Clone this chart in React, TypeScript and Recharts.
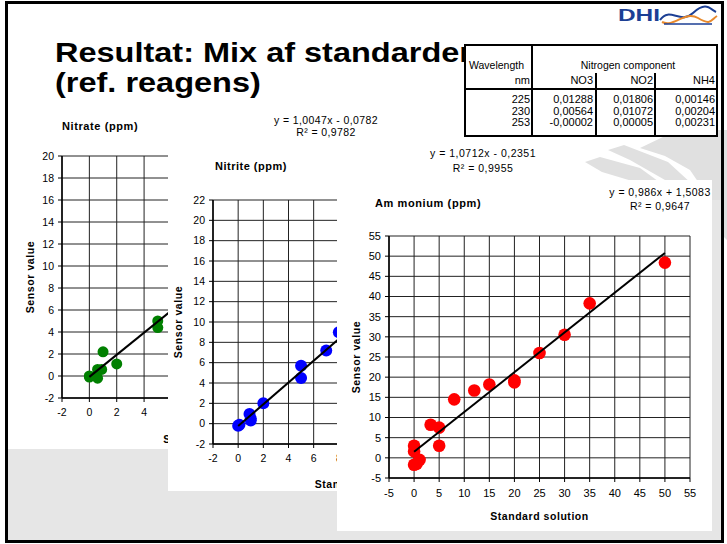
import React from 'react';
import { ScatterChart, Scatter, XAxis, YAxis, CartesianGrid } from 'recharts';

const F = '"Liberation Sans", Arial, sans-serif';

// ---- Nitrate ----
const nitrateX = [0, 0, 0.6, 0.6, 0.9, 1.0, 2.0, 5.0, 5.0];
const nitrateY = [0, -0.1, 0.6, -0.2, 0.6, 2.2, 1.1, 5.0, 4.4];
const nitrateTrendX = [0, 20];
const nitrateTrendY = [-0.08, 20.02];
const nitrateTicks = [-2, 0, 2, 4, 6, 8, 10, 12, 14, 16, 18, 20];

// ---- Nitrite ----
const nitriteX = [0, 0.1, 0.9, 1.0, 1.0, 2.0, 5.0, 5.0, 7.0, 8.0];
const nitriteY = [-0.2, -0.1, 0.95, 0.3, 0.5, 2.0, 5.7, 4.5, 7.2, 9.0];
const nitriteTrendX = [0, 20];
const nitriteTrendY = [-0.24, 21.19];
const nitriteTicks = [-2, 0, 2, 4, 6, 8, 10, 12, 14, 16, 18, 20, 22];

// ---- Ammonium ----
const ammoniumX = [50, 35, 30, 25, 20, 20, 15, 12, 8, 3.3, 5, 5, 0, 0, 1.1, 0, 0.5];
const ammoniumY = [48.4, 38.3, 30.5, 26, 19.2, 18.7, 18.2, 16.7, 14.5, 8.2, 7.5, 3.0, 3.0, 1.6, -0.5, -1.7, -1.5];
const ammoniumTrendX = [0, 50];
const ammoniumTrendY = [1.5, 50.8];
const ammoniumTicks = [-5, 0, 5, 10, 15, 20, 25, 30, 35, 40, 45, 50, 55];

// ---- Table ----
const tableWavelengths = ['225', '230', '253'];
const tableNO3 = ['0,01288', '0,00564', '-0,00002'];
const tableNO2 = ['0,01806', '0,01072', '0,00005'];
const tableNH4 = ['0,00146', '0,00204', '0,00231'];

const zip = (xs: number[], ys: number[]) => xs.map((x, i) => ({ x, y: ys[i] }));

type PanelProps = {
  left: number; top: number; width: number; height: number;
  margin: { top: number; right: number; bottom: number; left: number };
  xh: number; ylabOffset: number;
  ticks: number[];
  points: { x: number; y: number }[];
  trend: { x: number; y: number }[];
  color: string; r: number; tickFont: number;
};

function Panel(p: PanelProps) {
  const dom: [number, number] = [p.ticks[0], p.ticks[p.ticks.length - 1]];
  return (
    <div style={{ position: 'absolute', left: p.left, top: p.top, width: p.width, height: p.height, background: '#fff' }}>
      <ScatterChart width={p.width} height={p.height} margin={p.margin}>
        <CartesianGrid stroke="#222" strokeWidth={1} />
        <XAxis
          type="number" dataKey="x" domain={dom} ticks={p.ticks} interval={0} allowDataOverflow
          height={p.xh} tickSize={4} tickMargin={7}
          axisLine={{ stroke: '#000', strokeWidth: 1.5 }} tickLine={{ stroke: '#000' }}
          tick={{ fontSize: p.tickFont, fill: '#000', fontFamily: F }}
          label={{ value: 'Standard solution', position: 'insideBottom', offset: 0, fontSize: 10.5, fontWeight: 700, fill: '#000', fontFamily: F, letterSpacing: 0.55, style: { letterSpacing: '0.55px' } }}
        />
        <YAxis
          type="number" dataKey="y" domain={dom} ticks={p.ticks} interval={0} allowDataOverflow
          width={40} tickSize={4} tickMargin={4}
          axisLine={{ stroke: '#000', strokeWidth: 1.5 }} tickLine={{ stroke: '#000' }}
          tick={{ fontSize: p.tickFont, fill: '#000', fontFamily: F }}
          label={{ value: 'Sensor value', angle: -90, position: 'insideLeft', offset: p.ylabOffset, textAnchor: 'middle', fontSize: 10.5, fontWeight: 700, fill: '#000', fontFamily: F, style: { textAnchor: 'middle', letterSpacing: '0.6px' } }}
        />
        <Scatter
          data={p.points} isAnimationActive={false}
          shape={(s: any) => <circle cx={s.cx} cy={s.cy} r={p.r} fill={p.color} />}
        />
        <Scatter
          data={p.trend} isAnimationActive={false}
          line={{ stroke: '#000', strokeWidth: 2 }}
          shape={() => <g />}
        />
      </ScatterChart>
    </div>
  );
}

const abs = (extra: React.CSSProperties): React.CSSProperties => ({ position: 'absolute', fontFamily: F, color: '#000', whiteSpace: 'nowrap', ...extra });
const cell = (left: number, top: number, width: number): React.CSSProperties =>
  abs({ left, top, width, textAlign: 'right', fontSize: 11, lineHeight: '12px' });

export default function App() {
  const cellTops = [93, 105, 116];
  return (
    <div style={{ position: 'absolute', left: 0, top: 0, width: 727, height: 544, background: '#fff', overflow: 'hidden', fontFamily: F }}>
      {/* swoosh background */}
      <svg style={{ position: 'absolute', left: 0, top: 0 }} width={727} height={544}>
        <polygon points="585,162 600,157 640,168 662,184 642,184 602,172" fill="#e0e0e0" />
        <polygon points="608,150 624,145 668,162 692,184 672,184 630,160" fill="#e0e0e0" />
        <polygon points="640,148 665,136 700,130 727,130 727,240 712,225 705,192 690,170 665,156" fill="#e0e0e0" />
        <rect x={8} y={449} width={716} height={94} fill="#e6e6e6" />
        <rect x={712} y={200} width={12} height={343} fill="#e6e6e6" />
      </svg>

      {/* Title */}
      <div style={abs({ left: 55, top: 38, fontSize: 28, fontWeight: 700, lineHeight: '30px', transform: 'scaleX(1.16)', transformOrigin: '0 0' })}>
        Resultat: Mix af standarder<br />(ref. reagens)
      </div>

      {/* Nitrate */}
      <Panel left={10} top={102} width={400} height={347}
        margin={{ top: 54, right: 47, bottom: 6, left: 12 }} xh={45} ylabOffset={8}
        ticks={nitrateTicks} points={zip(nitrateX, nitrateY)} trend={zip(nitrateTrendX, nitrateTrendY)}
        color="#008000" r={5.5} tickFont={10.5} />
      <div style={abs({ left: 62, top: 120, fontSize: 11, fontWeight: 700, lineHeight: '12px', letterSpacing: 0.6 })}>Nitrate (ppm)</div>
      <div style={abs({ left: 256, top: 114, width: 140, textAlign: 'center', fontSize: 10.5, lineHeight: '12px', letterSpacing: 0.4 })}>
        y = 1,0047x - 0,0782<br />R² = 0,9782
      </div>

      {/* Nitrite */}
      <Panel left={168} top={143} width={360} height={348}
        margin={{ top: 57, right: 13, bottom: 3, left: 5 }} xh={44} ylabOffset={5}
        ticks={nitriteTicks} points={zip(nitriteX, nitriteY)} trend={zip(nitriteTrendX, nitriteTrendY)}
        color="#0000ff" r={6} tickFont={10.5} />
      <div style={abs({ left: 215, top: 160, fontSize: 11, fontWeight: 700, lineHeight: '12px', letterSpacing: 0.5 })}>Nitrite (ppm)</div>
      <div style={abs({ left: 413, top: 146, width: 140, textAlign: 'center', fontSize: 10.5, lineHeight: '15px', letterSpacing: 0.5 })}>
        y = 1,0712x - 0,2351<br />R² = 0,9955
      </div>

      {/* Ammonium */}
      <Panel left={337} top={180} width={375} height={351}
        margin={{ top: 56, right: 22, bottom: 11, left: 12 }} xh={42} ylabOffset={7}
        ticks={ammoniumTicks} points={zip(ammoniumX, ammoniumY)} trend={zip(ammoniumTrendX, ammoniumTrendY)}
        color="#ff0000" r={6.3} tickFont={11} />
      <div style={abs({ left: 375, top: 197, fontSize: 11, fontWeight: 700, lineHeight: '12px', letterSpacing: 0.6 })}>Am monium (ppm)</div>
      <div style={abs({ left: 590, top: 185, width: 140, textAlign: 'center', fontSize: 10.5, lineHeight: '14px', letterSpacing: 0.45 })}>
        y = 0,986x + 1,5083<br />R² = 0,9647
      </div>

      {/* Table */}
      <div style={{ position: 'absolute', left: 464, top: 44, width: 254, height: 93, background: '#fff', border: '2px solid #000', boxSizing: 'border-box' }} />
      <div style={{ position: 'absolute', left: 531, top: 44, width: 2, height: 93, background: '#000' }} />
      <div style={{ position: 'absolute', left: 464, top: 88, width: 254, height: 2, background: '#000' }} />
      <div style={{ position: 'absolute', left: 595, top: 73, width: 1.5, height: 64, background: '#000' }} />
      <div style={{ position: 'absolute', left: 654, top: 73, width: 1.5, height: 64, background: '#000' }} />
      <div style={abs({ left: 469, top: 59, fontSize: 10.5, lineHeight: '12px' })}>Wavelength</div>
      <div style={abs({ left: 548, top: 59, width: 160, textAlign: 'center', fontSize: 10.5, lineHeight: '12px' })}>Nitrogen component</div>
      <div style={cell(470, 74, 60)}>nm</div>
      <div style={cell(533, 74, 60)}>NO3</div>
      <div style={cell(592, 74, 61)}>NO2</div>
      <div style={cell(655, 74, 60)}>NH4</div>
      {tableWavelengths.map((w, i) => (
        <React.Fragment key={w}>
          <div style={cell(470, cellTops[i], 60)}>{w}</div>
          <div style={cell(533, cellTops[i], 60)}>{tableNO3[i]}</div>
          <div style={cell(592, cellTops[i], 61)}>{tableNO2[i]}</div>
          <div style={cell(655, cellTops[i], 60)}>{tableNH4[i]}</div>
        </React.Fragment>
      ))}

      {/* DHI logo */}
      <svg style={{ position: 'absolute', left: 610, top: 3 }} width={112} height={26}>
        <text x={8} y={18} fontFamily={F} fontWeight={900} fontSize={16} fill="#1c3f94" textLength={42} lengthAdjust="spacingAndGlyphs">DHI</text>
        <path d="M50,17 C60,3 70,22 83,10 S100,6 106,9" stroke="#1c3f94" strokeWidth={2} fill="none" />
        <path d="M52,19 C64,25 75,7 88,15 S101,17 107,13" stroke="#e8892c" strokeWidth={2} fill="none" />
        <path d="M54,21 L102,21" stroke="#1c3f94" strokeWidth={1.5} fill="none" />
      </svg>

      {/* Slide frame */}
      <div style={{ position: 'absolute', left: 5, top: 1, width: 719, height: 542, border: '3px solid #000', boxSizing: 'border-box' }} />
    </div>
  );
}
